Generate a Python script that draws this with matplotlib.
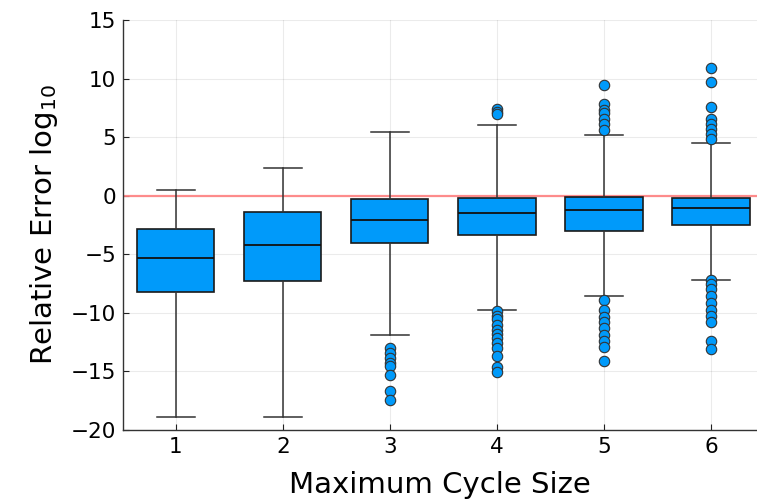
import matplotlib
matplotlib.use("Agg")
import matplotlib.pyplot as plt

categories = [1, 2, 3, 4, 5, 6]
q1 = [-8.21, -7.30, -4.02, -3.37, -3.03, -2.50]
med = [-5.30, -4.19, -2.09, -1.45, -1.26, -1.03]
q3 = [-2.82, -1.37, -0.32, -0.23, -0.15, -0.17]
whislo = [-18.85, -18.85, -11.87, -9.73, -8.59, -7.16]
whishi = [0.45, 2.33, 5.44, 6.07, 5.16, 4.53]
fliers = [
    [],
    [],
    [-13.0, -13.43, -13.86, -14.29, -14.57, -15.29, -16.66, -17.43],
    [7.37, 7.15, 6.95, -9.87, -10.24, -10.52, -11.01, -11.44, -11.78, -12.15,
     -12.58, -13.0, -13.66, -14.58, -15.09],
    [9.43, 7.81, 7.32, 7.04, 6.59, 6.10, 5.61, -8.93, -9.79, -10.35, -10.81,
     -11.29, -11.87, -12.44, -12.92, -14.15],
    [10.86, 9.67, 7.61, 6.59, 6.10, 5.73, 5.24, 4.82, -7.16, -7.50, -7.96,
     -8.59, -9.15, -9.73, -10.30, -10.81, -12.44, -13.09],
]
yticks = [-20, -15, -10, -5, 0, 5, 10, 15]

blue = "#009AFA"
fig = plt.figure(figsize=(7.57, 5.04), dpi=100)
ax = fig.add_axes([123 / 757, 1 - 430 / 504, 1 - 123 / 757, 410 / 504])

stats = []
for i in range(len(categories)):
    stats.append(dict(med=med[i], q1=q1[i], q3=q3[i], whislo=whislo[i],
                      whishi=whishi[i], fliers=fliers[i], label=str(categories[i])))

ax.bxp(stats, positions=categories, widths=0.72, patch_artist=True,
       showfliers=True,
       boxprops=dict(facecolor=blue, edgecolor="#1a1a1a", linewidth=1.2),
       medianprops=dict(color="#111111", linewidth=1.3),
       whiskerprops=dict(color="#333333", linewidth=1.1),
       capprops=dict(color="#333333", linewidth=1.1),
       capwidths=0.36,
       flierprops=dict(marker="o", markerfacecolor=blue, markeredgecolor="#333333",
                       markersize=7.5, markeredgewidth=0.8, linestyle="none"))

ax.axhline(0, color="#ff8080", linewidth=1.6, alpha=0.9, zorder=1)

ax.set_xlim(0.505, 6.43)
ax.set_ylim(-20, 15)
ax.set_yticks(yticks)
ax.set_xticks(categories)
ax.set_xticklabels([str(c) for c in categories])
ax.grid(True, color="#000000", alpha=0.08, linewidth=0.8)
ax.set_axisbelow(True)
for s in ["top", "right"]:
    ax.spines[s].set_visible(False)
for s in ["left", "bottom"]:
    ax.spines[s].set_color("#333333")
    ax.spines[s].set_linewidth(1.0)
ax.tick_params(direction="in", length=4, labelsize=15.5, colors="#222222",
               labelcolor="black", pad=5)
ax.set_xlabel("Maximum Cycle Size", fontsize=21, labelpad=10)
ax.set_ylabel("Relative Error log$_{10}$", fontsize=21, labelpad=8)

fig.savefig("out.png", dpi=100)
